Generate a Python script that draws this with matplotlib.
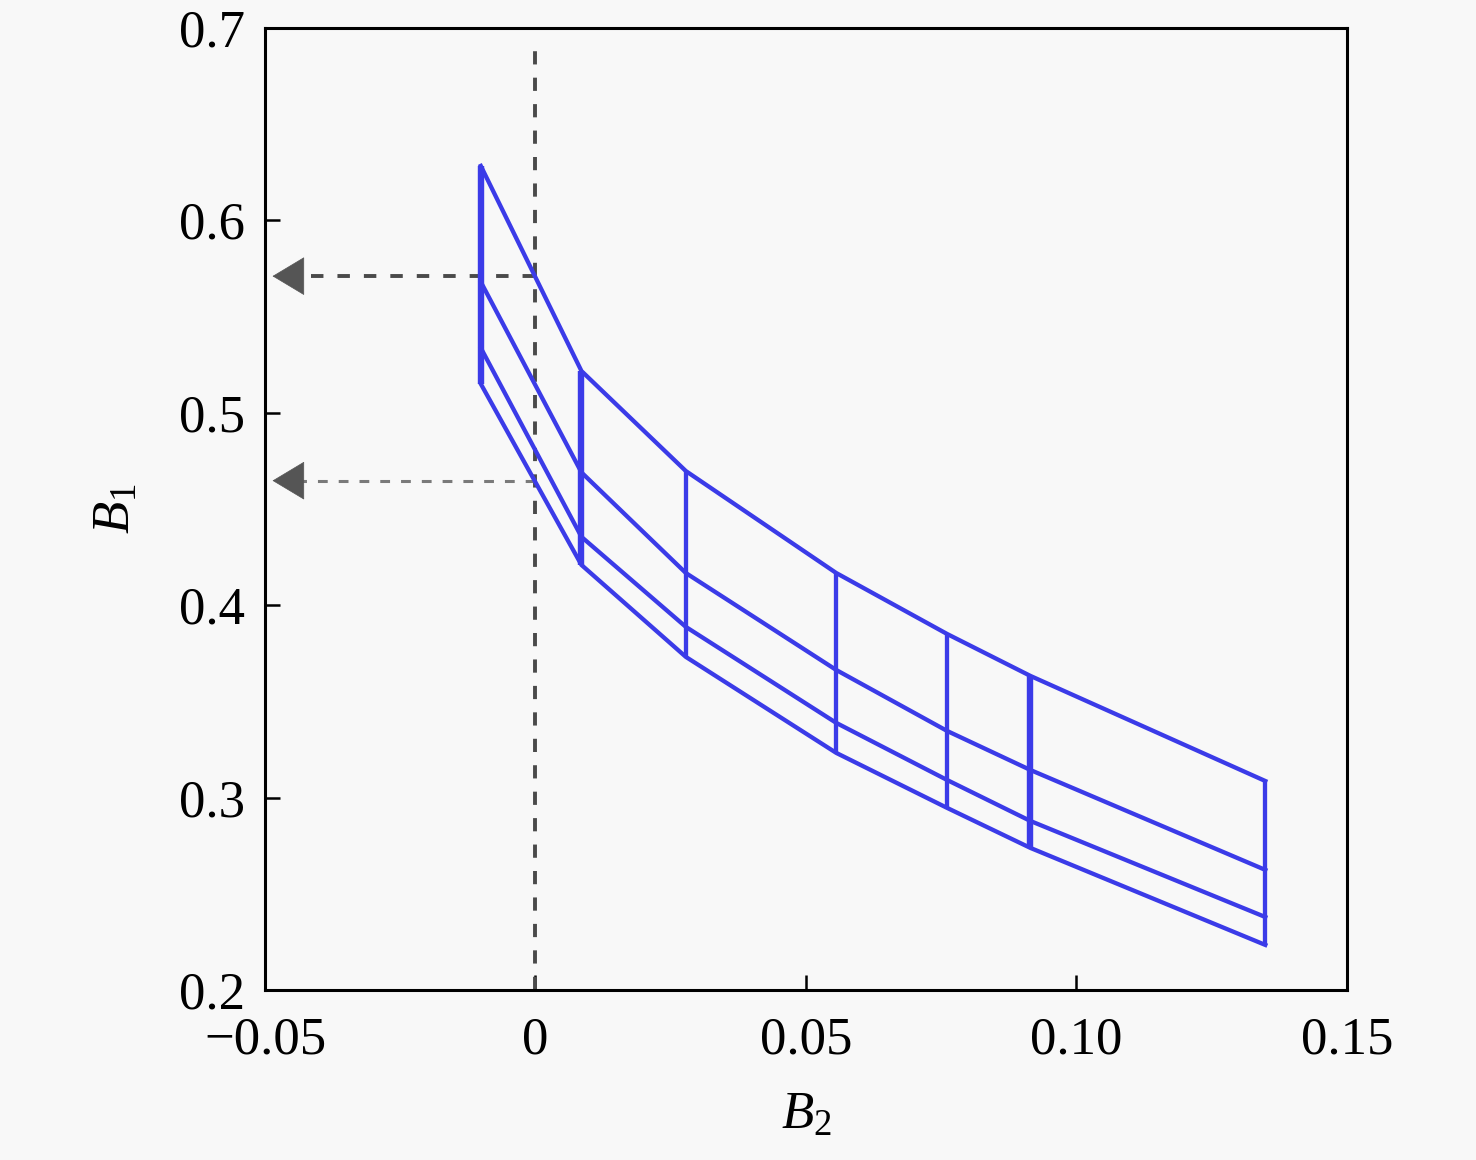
import numpy as np
import matplotlib.pyplot as plt

plt.rcParams['font.family'] = ['Liberation Serif', 'DejaVu Serif']
plt.rcParams['mathtext.fontset'] = 'custom'
plt.rcParams['mathtext.rm'] = 'Liberation Serif'
plt.rcParams['mathtext.it'] = 'Liberation Serif:italic'

# B2 positions of the grid columns
b2_cols = [-0.0101, 0.0085, 0.0278, 0.0556, 0.0761, 0.0915, 0.1349]

# B1 values along the four curves (top to bottom)
b1_curve1 = [0.6283, 0.5217, 0.4697, 0.4167, 0.3850, 0.3632, 0.3086]
b1_curve2 = [0.5680, 0.4690, 0.4167, 0.3663, 0.3346, 0.3143, 0.2624]
b1_curve3 = [0.5337, 0.4355, 0.3887, 0.3388, 0.3091, 0.2878, 0.2379]
b1_curve4 = [0.5150, 0.4209, 0.3731, 0.3232, 0.2946, 0.2738, 0.2234]

# thicker vertical segments
thick_cols = [0, 1, 5]

# dashed guides
zero_line_top = 0.6927
arrow_y = [0.571, 0.4647]
arrow_tip = -0.0486

xticks = [-0.05, 0, 0.05, 0.10, 0.15]
xtick_labels = ['\u22120.05', '0', '0.05', '0.10', '0.15']
yticks = [0.2, 0.3, 0.4, 0.5, 0.6, 0.7]
ytick_labels = ['0.2', '0.3', '0.4', '0.5', '0.6', '0.7']

bg = '#f8f8f8'
blue = '#3b3be8'

fig = plt.figure(figsize=(14.76, 11.6), dpi=100, facecolor=bg)
ax = fig.add_axes([0.1795, 0.1466, 0.7331, 0.8293], facecolor=bg)

curves = [b1_curve1, b1_curve2, b1_curve3, b1_curve4]
for c in curves:
    ax.plot(b2_cols, c, color=blue, lw=3.1, solid_joinstyle='miter', zorder=3)

top = np.array(b1_curve1)
bot = np.array(b1_curve4)
for i, x in enumerate(b2_cols):
    lw = 4.6 if i in thick_cols else 3.1
    ax.plot([x, x], [bot[i], top[i]], color=blue, lw=lw, solid_capstyle='butt', zorder=3)

# vertical dashed line at B2 = 0
ax.plot([0, 0], [0.2, zero_line_top], color='#4a4a4a', lw=2.8,
        dashes=(3.4, 3.4), zorder=2)

# dashed arrows pointing to the B1 axis
arrow_colors = ['#4a4a4a', '#7a7a7a']
arrow_lws = [2.8, 2.2]
head_len = 0.005
for y, col, lw in zip(arrow_y, arrow_colors, arrow_lws):
    ax.plot([0, arrow_tip + head_len], [y, y], color=col, lw=lw,
            dashes=(3.2, 3.6), zorder=2)
    ax.annotate('', xy=(arrow_tip, y), xytext=(arrow_tip + head_len, y),
                arrowprops=dict(arrowstyle='-|>,head_length=1.0,head_width=0.6',
                                mutation_scale=22, color='#555555', lw=0.5,
                                shrinkA=0, shrinkB=0), zorder=4)

ax.set_xlim(-0.05, 0.15)
ax.set_ylim(0.2, 0.7)
ax.set_xticks(xticks)
ax.set_xticklabels(xtick_labels)
ax.set_yticks(yticks)
ax.set_yticklabels(ytick_labels)

ax.tick_params(direction='in', length=11, width=1.8, labelsize=38, pad=14,
               top=False, right=False)
ax.tick_params(axis='x', pad=19)
for s in ax.spines.values():
    s.set_linewidth(2.2)

ax.set_xlabel('$B_2$', fontsize=38, labelpad=20)
ax.set_ylabel('$B_1$', fontsize=38, labelpad=28)

fig.savefig('out.png', dpi=100, facecolor=bg)
